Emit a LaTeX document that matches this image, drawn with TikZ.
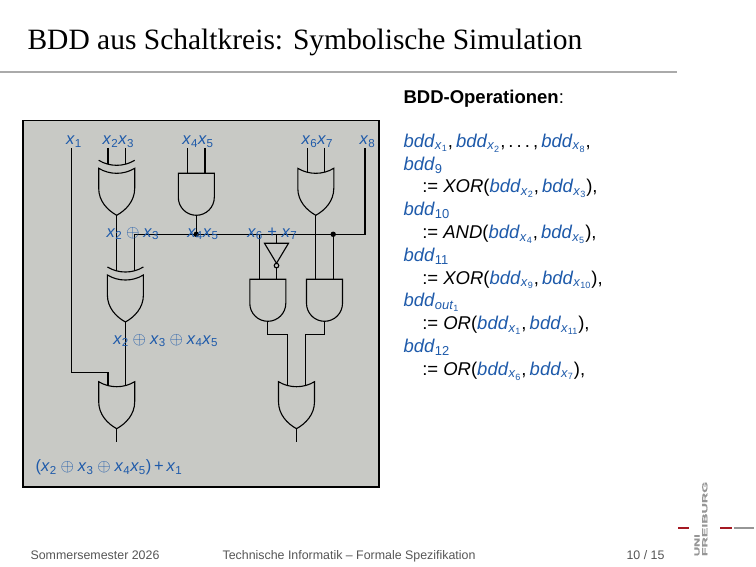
\documentclass[tikz,border=0pt]{standalone}
\usepackage{fontspec}
\setmainfont{Liberation Sans}
\newfontfamily\titlefont{Liberation Serif}
\newfontfamily\logowide[FakeStretch=1.9,FakeBold=1]{Liberation Sans}
\newfontfamily\logonarrow[FakeStretch=1.7,FakeBold=1]{Liberation Sans}
\usepackage{tikz}
\usetikzlibrary{calc}
\definecolor{ublue}{RGB}{30,90,170}
\definecolor{boxgray}{RGB}{200,201,197}
\definecolor{rulegray}{RGB}{170,170,170}
\definecolor{footgray}{RGB}{85,85,85}
\definecolor{logogray}{RGB}{150,150,150}
\definecolor{ured}{RGB}{165,25,35}
\newcommand\vx[1]{\textit{x}\textsubscript{#1}}
\newcommand\xo{${}\oplus{}$}
\newcommand\bd[1]{\textcolor{ublue}{\textit{bdd}\textsubscript{#1}}}
\newcommand\bdx[1]{\bd{\textit{x}\textsubscript{#1}}}
\tikzset{
  andgate/.pic={
    \draw (-18,0) -- (18,0) -- (18,24) arc[start angle=0,end angle=180,radius=18] -- cycle;
    \coordinate (-a) at (-8.7,0);
    \coordinate (-b) at (8.7,0);
    \coordinate (-o) at (0,42);
  },
  orgate/.pic={
    \draw (-18,0) .. controls (-7,6.7) and (7,6.7) .. (18,0) -- (18,20)
      .. controls (18,33) and (9,42) .. (0,47) .. controls (-9,42) and (-18,33) .. (-18,20) -- cycle;
    \coordinate (-a) at (-8.7,3.9);
    \coordinate (-b) at (8.7,3.9);
    \coordinate (-o) at (0,47);
  },
  xorgate/.pic={
    \draw (-18,0) .. controls (-7,6.7) and (7,6.7) .. (18,0) -- (18,20)
      .. controls (18,33) and (9,42) .. (0,47) .. controls (-9,42) and (-18,33) .. (-18,20) -- cycle;
    \draw (-18,-8) .. controls (-7,-1.3) and (7,-1.3) .. (18,-8);
    \coordinate (-a) at (-8.7,-4.1);
    \coordinate (-b) at (8.7,-4.1);
    \coordinate (-o) at (0,47);
  },
  notgate/.pic={
    \draw (-12,0) -- (12,0) -- (0,20) -- cycle;
    \draw (0,22.3) circle[radius=2.3];
    \coordinate (-a) at (0,0);
    \coordinate (-o) at (0,24.6);
  }
}
\begin{document}
\begin{tikzpicture}[x=1pt,y=-1pt,line width=1.1pt,
  lbl/.style={text=ublue,inner sep=0pt,font=\fontsize{16.5}{20}\selectfont},
  ops/.style={inner sep=0pt,anchor=base west,font=\fontsize{18.5}{22.8}\selectfont},
  foot/.style={inner sep=0pt,anchor=base west,text=footgray,font=\fontsize{12.4}{15}\selectfont},
  logo/.style={rotate=90,anchor=west,inner sep=0pt,text=logogray}]
\useasboundingbox (0,0) rectangle (756,567);
\node[anchor=base west,inner sep=0pt,font=\titlefont\fontsize{29.5}{35}\selectfont] (title) at (27,50) {BDD aus Schaltkreis: Symbolische Simulation};
\draw[rulegray,line width=2.5pt] (0,72) -- (677,72);
\draw[fill=boxgray,line width=1.6pt] (23,120.5) rectangle (379,487);
\pic (xorA) at (116.7,168.3) {xorgate};
\pic (andA) at (196.3,173.3) {andgate};
\pic (orA) at (315.8,168.3) {orgate};
\pic (xorB) at (125.4,275) {xorgate};
\pic (notA) at (276.5,243.3) {notgate};
\pic (andB) at (267.8,279.3) {andgate};
\pic (andC) at (324.5,279.3) {andgate};
\pic (orB) at (116.7,381.7) {orgate};
\pic (orC) at (296.5,381.7) {orgate};
\coordinate (in1) at (71.7,148);
\coordinate (in2) at (xorA-a |- in1);
\coordinate (in3) at (xorA-b |- in1);
\coordinate (in4) at (andA-a |- in1);
\coordinate (in5) at (andA-b |- in1);
\coordinate (in6) at (orA-a |- in1);
\coordinate (in7) at (orA-b |- in1);
\coordinate (in8) at (365,148);
\coordinate (bus) at (0,234.3);
\coordinate (j1) at (andA-o |- bus);
\coordinate (j2) at (andC-b |- bus);
\coordinate (out1) at ($(orB-o)+(0,13)$);
\coordinate (out2) at ($(orC-o)+(0,13)$);
\draw (in1) |- ($(orB-a)+(0,-13)$) -- (orB-a);
\draw (in2) -- (xorA-a);
\draw (in3) -- (xorA-b);
\draw (in4) -- (andA-a);
\draw (in5) -- (andA-b);
\draw (in6) -- (orA-a);
\draw (in7) -- (orA-b);
\draw (xorB-b) -- (xorB-b |- bus) -- (j2) -- (in8 |- bus) -- (in8);
\draw (andA-o) -- (j1);
\draw (xorA-o) -- (xorB-a);
\draw (j2) -- (andC-b);
\draw (orA-o) -- (andC-a);
\draw (andB-a |- bus) -- (andB-a);
\draw (notA-a |- bus) -- (notA-a);
\draw (notA-o) -- (andB-b);
\draw (andB-o) -- ++(0,13) -| (orC-a);
\draw (andC-o) -- ++(0,13) -| (orC-b);
\draw (xorB-o) -- (orB-b);
\draw (orB-o) -- (out1);
\draw (orC-o) -- (out2);
\fill (j1) circle[radius=2.7];
\fill (j2) circle[radius=2.7];
\node[lbl,anchor=base] (l1) at (74,145) {\vx{1}};
\node[lbl,anchor=base] (l23) at (118.3,145) {\vx{2}\vx{3}};
\node[lbl,anchor=base] (l45) at (198,145) {\vx{4}\vx{5}};
\node[lbl,anchor=base] (l67) at (317.3,145) {\vx{6}\vx{7}};
\node[lbl,anchor=base] (l8) at (367.5,145) {\vx{8}};
\node[lbl,anchor=base west] (s9) at (106,237.3) {\vx{2}\xo\vx{3}};
\node[lbl,anchor=base west] (s10) at (186.7,237.3) {\vx{4}\vx{5}};
\node[lbl,anchor=base west] (s12) at (246.7,237.3) {\vx{6} + \vx{7}};
\node[lbl,anchor=base west] (s11) at (112.7,344.3) {\vx{2}\xo\vx{3}\xo\vx{4}\vx{5}};
\node[lbl,anchor=base west] (sout) at (35,471.7) {(\vx{2}\xo\vx{3}\xo\vx{4}\vx{5})\,+\,\vx{1}};
\node[ops] (head) at (403,103.3) {\textbf{BDD-Operationen}:};
\foreach \op [count=\i] in {
  {\bdx{1},\,\bdx{2},\,.\,.\,.\,,\,\bdx{8},},
  {\bd{9}},
  {\hspace*{18.7pt}:= \textit{XOR}(\bdx{2},\,\bdx{3}),},
  {\bd{10}},
  {\hspace*{18.7pt}:= \textit{AND}(\bdx{4},\,\bdx{5}),},
  {\bd{11}},
  {\hspace*{18.7pt}:= \textit{XOR}(\bdx{9},\,\bdx{10}),},
  {\bd{\textit{out}\textsubscript{1}}},
  {\hspace*{18.7pt}:= \textit{OR}(\bdx{1},\,\bdx{11}),},
  {\bd{12}},
  {\hspace*{18.7pt}:= \textit{OR}(\bdx{6},\,\bdx{7}),}}
  \node[ops] (op\i) at (403,{147.3+22.8*(\i-1)}) {\op};
\node[foot] (f1) at (30,559) {Sommersemester 2026};
\node[foot] (f2) at (222,559) {Technische Informatik -- Formale Spezifikation};
\node[foot,anchor=base east] (f3) at (665,559) {10 / 15};
\draw[ured,line width=2.2pt] (678,528.3) -- (688.5,528.3);
\draw[ured,line width=2.2pt] (720,528.3) -- (731.7,528.3);
\draw[logogray,line width=2.2pt] (734,528.3) -- (754,528.3);
\node[logo,font=\logonarrow\bfseries\fontsize{7.5}{8}\selectfont] (uni) at (697,556.7) {UNI};
\node[logo,font=\logowide\bfseries\fontsize{7.5}{8}\selectfont] (frb) at (704.8,556.7) {FREIBURG};
\end{tikzpicture}
\end{document}
